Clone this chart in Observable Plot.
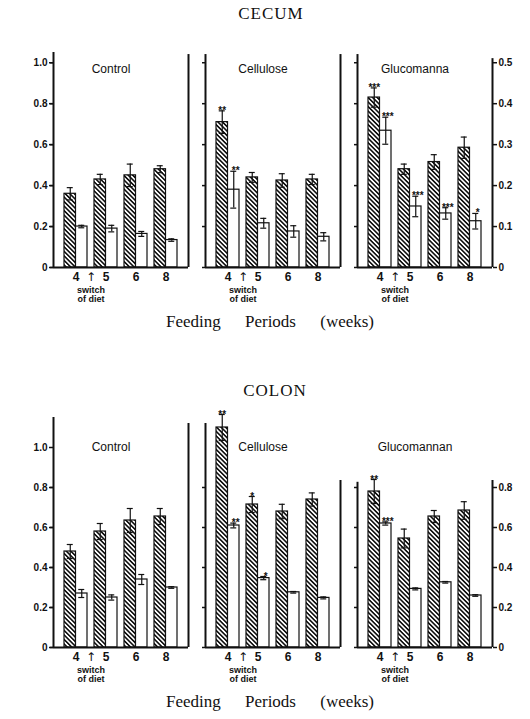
<!DOCTYPE html>
<html><head><meta charset="utf-8">
<script src="https://cdn.jsdelivr.net/npm/d3@7"></script>
<script src="https://cdn.jsdelivr.net/npm/@observablehq/plot@0.6"></script>
<style>
body{margin:0;background:#fff;}
#page{position:relative;width:530px;height:719px;overflow:hidden;font-family:"Liberation Sans",Arial,sans-serif;color:#111;background:#fff;}
.abs{position:absolute;}
.title{font-family:"Liberation Serif","Times New Roman",serif;font-size:17px;letter-spacing:1px;transform:translate(-50%,-50%);white-space:nowrap;}
.xlab{font-family:"Liberation Serif","Times New Roman",serif;font-size:17px;word-spacing:20px;transform:translate(-50%,-50%);white-space:nowrap;}
.ylab{font-weight:bold;font-size:12px;transform:translate(-50%,-50%) rotate(-90deg);white-space:nowrap;}
</style></head>
<body>
<svg width="0" height="0" style="position:absolute"><defs>
<pattern id="hatch" patternUnits="userSpaceOnUse" width="3.2" height="3.2" patternTransform="rotate(-45)">
<rect width="3.2" height="3.2" fill="white"/><rect width="1.6" height="3.2" fill="#111"/></pattern></defs></svg>
<div id="page">
  <div class="abs title" style="left:271px;top:14px">CECUM</div>
  <div class="abs title" style="left:275px;top:391px">COLON</div>
  <div class="abs xlab" style="left:270px;top:322px">Feeding Periods (weeks)</div>
  <div class="abs xlab" style="left:270px;top:702px">Feeding Periods (weeks)</div>
  <div class="abs ylab" style="left:16px;top:191px">Wet weight (g)</div>
  <div class="abs ylab" style="left:16px;top:562px">Wet weight (g)</div>
  <div class="abs ylab" style="left:521px;top:172px">% Wet weight to body weight</div>
  <div class="abs ylab" style="left:521px;top:562px">% Wet weight to body weight</div>
  <svg class="abs" style="left:8px;top:88px" width="16" height="36"><rect x="0.75" y="0.75" width="14.5" height="34.5" fill="url(#hatch)" stroke="#111" stroke-width="1.5"/></svg>
  <svg class="abs" style="left:8px;top:450px" width="16" height="41"><rect x="0.75" y="0.75" width="14.5" height="39.5" fill="url(#hatch)" stroke="#111" stroke-width="1.5"/></svg>
  <svg class="abs" style="left:517px;top:38px" width="20" height="37"><rect x="0.75" y="0.75" width="18" height="35" fill="white" stroke="#111" stroke-width="1.5"/></svg>
  <svg class="abs" style="left:516px;top:418px" width="20" height="41"><rect x="0.75" y="0.75" width="18" height="39" fill="white" stroke="#111" stroke-width="1.5"/></svg>
  <div id="cecum" class="abs" style="left:0;top:30px"></div>
  <div id="colon" class="abs" style="left:0;top:400px"></div>
</div>
<script>
const weeks = ["4", "5", "6", "8"];
const switchAfterWeek = "4";
const groups = ["Control", "Cellulose", "Glucomannan"];
const cecumFacetLabels = ["Control", "Cellulose", "Glucomanna"];
const colonFacetLabels = ["Control", "Cellulose", "Glucomannan"];

// CECUM: wet weight (g), rows = Control, Cellulose, Glucomannan
const cecumWet    = [[0.36, 0.43, 0.45, 0.48], [0.71, 0.44, 0.425, 0.43], [0.83, 0.48, 0.515, 0.585]];
const cecumWetErr = [[0.03, 0.025, 0.055, 0.017], [0.055, 0.024, 0.033, 0.025], [0.047, 0.025, 0.036, 0.052]];
const cecumWetStars = [["", "", "", ""], ["**", "", "", ""], ["***", "", "", ""]];
// CECUM: % wet weight to body weight
const cecumPct    = [[0.10, 0.095, 0.082, 0.067], [0.19, 0.108, 0.088, 0.075], [0.334, 0.149, 0.132, 0.113]];
const cecumPctErr = [[0.003, 0.008, 0.006, 0.003], [0.045, 0.012, 0.014, 0.01], [0.033, 0.025, 0.014, 0.019]];
const cecumPctStars = [["", "", "", ""], ["**", "", "", ""], ["***", "***", "***", "*"]];

// COLON: wet weight (g)
const colonWet    = [[0.48, 0.58, 0.635, 0.655], [1.10, 0.715, 0.68, 0.74], [0.78, 0.545, 0.655, 0.685]];
const colonWetErr = [[0.035, 0.04, 0.06, 0.04], [0.065, 0.04, 0.036, 0.033], [0.06, 0.047, 0.03, 0.044]];
const colonWetStars = [["", "", "", ""], ["**", "*", "", ""], ["**", "", "", ""]];
// COLON: % wet weight to body weight
const colonPct    = [[0.27, 0.25, 0.34, 0.30], [0.61, 0.347, 0.276, 0.248], [0.62, 0.293, 0.326, 0.26]];
const colonPctErr = [[0.02, 0.013, 0.025, 0.004], [0.012, 0.008, 0.004, 0.005], [0.008, 0.005, 0.004, 0.004]];
const colonPctStars = [["", "", "", ""], ["**", "*", "", ""], ["***", "", "", ""]];

// axis ticks
const cecumLeftTicks = [0, 0.2, 0.4, 0.6, 0.8, 1.0];
const cecumRightTicks = [0, 0.1, 0.2, 0.3, 0.4, 0.5];
const colonLeftTicks = [0, 0.2, 0.4, 0.6, 0.8, 1.0];
const colonRightTicks = [0, 0.2, 0.4, 0.6, 0.8];
// right-axis value that sits at the same height as left-axis value 1 unit (ratio)
const cecumRightFactor = 2;
const colonRightFactor = 1;
// heights (in left-axis units) reached by the left / right vertical lines of each facet
const cecumLineTops = [[1.05, 1.04], [1.04, 1.04], [1.04, 1.02]];
const colonLineTops = [[1.15, 1.12], [1.12, 0.835], [0.826, 0.835]];

const fmt = d => d === 0 ? "0" : d.toFixed(1);

function panel(cfg) {
  const rows = [];
  groups.forEach((g, gi) => weeks.forEach((w, wi) => {
    rows.push({group: g, week: w, series: "wet", v: cfg.wet[gi][wi], e: cfg.wetErr[gi][wi], s: cfg.wetStars[gi][wi]});
    rows.push({group: g, week: w, series: "pct", v: cfg.pct[gi][wi] * cfg.factor, e: cfg.pctErr[gi][wi] * cfg.factor, s: cfg.pctStars[gi][wi]});
  }));
  const wetRows = rows.filter(d => d.series === "wet");
  const pctRows = rows.filter(d => d.series === "pct");
  const lines = groups.map((g, i) => ({group: g, first: weeks[0], last: weeks[weeks.length - 1], topL: cfg.lineTops[i][0], topR: cfg.lineTops[i][1]}));
  const facets = groups.map((g, i) => ({group: g, label: cfg.facetLabels[i], sw: switchAfterWeek}));
  const lowestTop = Math.min(...cfg.lineTops.flat());
  const innerTicks = cfg.leftTicks.filter(t => t <= lowestTop);

  const make = (G) => Plot.plot({
    width: 530, height: cfg.height,
    marginLeft: 53, marginRight: 38, marginTop: cfg.marginTop, marginBottom: 43,
    style: {fontFamily: "Liberation Sans, Arial, sans-serif", fontSize: "10px", color: "#111", background: "white", overflow: "visible"},
    fx: {domain: groups, paddingInner: 0.112, axis: null},
    x: {domain: weeks, paddingInner: 0.25, paddingOuter: 0.32},
    y: {domain: [0, cfg.yMax]},
    marks: [
      Plot.barY(wetRows, {fx: "group", x: "week", y: "v", fill: "url(#hatch)", stroke: "#111", strokeWidth: 1.2, insetRight: G.bw / 2}),
      Plot.barY(pctRows, {fx: "group", x: "week", y: "v", fill: "white", stroke: "#111", strokeWidth: 1.2, insetLeft: G.bw / 2}),
      Plot.ruleX(wetRows, {fx: "group", x: "week", y1: d => d.v - d.e, y2: d => d.v + d.e, dx: -G.bw / 4, stroke: "#111", strokeWidth: 1.2}),
      Plot.ruleX(pctRows, {fx: "group", x: "week", y1: d => d.v - d.e, y2: d => d.v + d.e, dx: G.bw / 4, stroke: "#111", strokeWidth: 1.2}),
      Plot.tickY(wetRows, {fx: "group", x: "week", y: d => d.v + d.e, insetLeft: G.bw / 4 - 3, insetRight: 3 * G.bw / 4 - 3, stroke: "#111", strokeWidth: 1.2}),
      Plot.tickY(wetRows, {fx: "group", x: "week", y: d => d.v - d.e, insetLeft: G.bw / 4 - 3, insetRight: 3 * G.bw / 4 - 3, stroke: "#111", strokeWidth: 1.2}),
      Plot.tickY(pctRows, {fx: "group", x: "week", y: d => d.v + d.e, insetLeft: 3 * G.bw / 4 - 3, insetRight: G.bw / 4 - 3, stroke: "#111", strokeWidth: 1.2}),
      Plot.tickY(pctRows, {fx: "group", x: "week", y: d => d.v - d.e, insetLeft: 3 * G.bw / 4 - 3, insetRight: G.bw / 4 - 3, stroke: "#111", strokeWidth: 1.2}),
      Plot.text(wetRows.filter(d => d.s), {fx: "group", x: "week", y: d => d.v + d.e, text: "s", dx: -G.bw / 4, dy: 3, lineAnchor: "bottom", fontSize: 10, fontWeight: "bold", fill: "#111"}),
      Plot.text(pctRows.filter(d => d.s), {fx: "group", x: "week", y: d => d.v + d.e, text: "s", dx: G.bw / 4 + 2, dy: 3, lineAnchor: "bottom", fontSize: 10, fontWeight: "bold", fill: "#111"}),
      Plot.ruleY([0], {stroke: "#111", strokeWidth: 2}),
      Plot.ruleX(lines, {fx: "group", x: "first", y1: 0, y2: "topL", dx: G.dl, stroke: "#111", strokeWidth: 2}),
      Plot.ruleX(lines, {fx: "group", x: "last", y1: 0, y2: "topR", dx: G.dr, stroke: "#111", strokeWidth: 2}),
      Plot.axisY({ticks: cfg.leftTicks, tickFormat: fmt, tickSize: 4, tickPadding: 2, fontSize: 10, fontWeight: "bold", label: null, strokeWidth: 1.5}),
      Plot.axisY({ticks: innerTicks, tickFormat: () => "", tickSize: 3, label: null, facetAnchor: null, strokeWidth: 1.5}),
      Plot.axisY({anchor: "right", ticks: cfg.rightTicks.map(t => t * cfg.factor), tickFormat: d => fmt(Math.round(d / cfg.factor * 10) / 10), tickSize: 4, tickPadding: 2, fontSize: 10, fontWeight: "bold", label: null, strokeWidth: 1.5}),
      Plot.axisX({tickSize: 0, tickPadding: 5, fontSize: 12, fontWeight: "bold", label: null}),
      Plot.text(facets, {fx: "group", text: "label", frameAnchor: "top", dx: -10, dy: cfg.labelDy, fontSize: 12}),
      Plot.text(facets, {fx: "group", x: "sw", y: 0, text: () => "↑", dx: G.step / 2, dy: 10, fontSize: 12, fontFamily: "DejaVu Sans, sans-serif"}),
      Plot.text(facets, {fx: "group", x: "sw", y: 0, text: () => "switch\nof diet", dx: G.step / 2, dy: 18, lineAnchor: "top", lineHeight: 1.1, fontSize: 9, fontWeight: "bold"})
    ]
  });

  const probe = make({bw: 0, dl: 0, dr: 0, step: 0});
  const xs = probe.scale("x");
  const bw = xs.bandwidth;
  const c4 = xs.apply(weeks[0]) + bw / 2;
  const c8 = xs.apply(weeks[weeks.length - 1]) + bw / 2;
  const r = xs.range;
  return make({bw, step: xs.step, dl: Math.min(...r) - c4, dr: Math.max(...r) - c8});
}

document.getElementById("cecum").append(panel({
  wet: cecumWet, wetErr: cecumWetErr, wetStars: cecumWetStars,
  pct: cecumPct, pctErr: cecumPctErr, pctStars: cecumPctStars,
  factor: cecumRightFactor, leftTicks: cecumLeftTicks, rightTicks: cecumRightTicks,
  lineTops: cecumLineTops, facetLabels: cecumFacetLabels,
  yMax: 1.05, height: 280, marginTop: 22, labelDy: 12
}));
document.getElementById("colon").append(panel({
  wet: colonWet, wetErr: colonWetErr, wetStars: colonWetStars,
  pct: colonPct, pctErr: colonPctErr, pctStars: colonPctStars,
  factor: colonRightFactor, leftTicks: colonLeftTicks, rightTicks: colonRightTicks,
  lineTops: colonLineTops, facetLabels: colonFacetLabels,
  yMax: 1.22, height: 290, marginTop: 3, labelDy: 39
}));
</script>
</body></html>
